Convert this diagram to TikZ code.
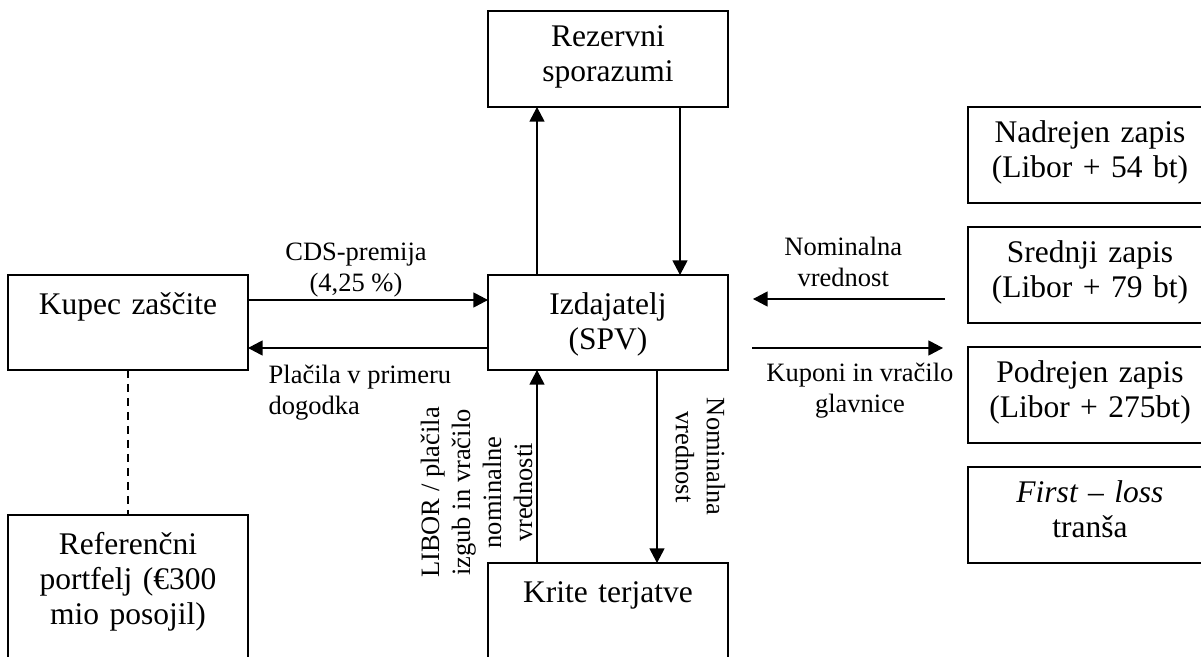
\documentclass[tikz,border=0pt]{standalone}
\usepackage{fontspec}
\setmainfont{Liberation Serif}
\usetikzlibrary{arrows.meta}
\usetikzlibrary{positioning}
\usetikzlibrary{calc}

\newcommand{\boxfont}{\fontsize{15.75pt}{17.5pt}\selectfont}
\newcommand{\lblfont}{\fontsize{13.25pt}{15.5pt}\selectfont}

\begin{document}
\begin{tikzpicture}[
			x=0.5pt, y=-0.5pt,
			box/.style={rectangle, draw=black, line width=0.8pt, anchor=north west, text width=120pt, inner xsep=0pt, inner ysep=0pt, outer sep=0pt, align=center, font=\boxfont, text height=20pt, text depth=27.5pt},
			tranche/.style={box, text width=122pt, text height=18pt, text depth=30pt},
			lbl/.style={font=\lblfont, align=center, inner sep=0pt},
			flow/.style={line width=0.65pt, arrows=-{Triangle[length=7.3pt,width=7.5pt]}},
			]
			\useasboundingbox (0,0) rectangle (1201,657);
			\clip (0,0) rectangle (1201,657);
			
			\node[box]         (kupec)    at (8,275)                        {Kupec zaščite};
			\node[box]         (izdaj)    at (488,275)                      {Izdajatelj\\(SPV)};
			\node[box, text height=18pt, text depth=30pt] (rezerv) at (488,11) {Rezervni\\sporazumi};
			\node[box, text depth=40pt]  (krite)   at (488,563)             {Krite terjatve};
			\node[box, text depth=60pt]  (referen) at (8,515)               {Referenčni\\portfelj (€300\\mio posojil)};
			
			\node[tranche]     (nadrejen) at (968,107)                      {Nadrejen zapis\\(Libor + 54 bt)};
			\node[tranche]     (srednji)  [below=12pt of nadrejen]          {Srednji zapis\\(Libor + 79 bt)};
			\node[tranche]     (podrejen) [below=12pt of srednji]           {Podrejen zapis\\(Libor + 275bt)};
			\node[tranche]     (firstloss) [below=12pt of podrejen]         {\textit{First – loss}\\tranša};
			
			\coordinate (nomin) at ($(srednji.north west)+(-23,72)$);
			\coordinate (kupon) at ($(podrejen.north west)+(-25,1)$);
			
			\draw [flow] ($(kupec.north east)+(0,25)$)   --node[lbl, pos=0.45, above=1pt]                                        {CDS-premija\\(4,25 \%)}   ($(izdaj.north west)+(0,25)$);
			\draw [flow] ($(izdaj.north west)+(0,73)$)   --node[lbl, at end, align=left, anchor=north west, xshift=10pt, yshift=-8pt] {Plačila v primeru\\dogodka} ($(kupec.north east)+(0,73)$);
			\draw [flow] ($(izdaj.north west)+(49,0)$)   --                                                                   ($(rezerv.south west)+(49,0)$);
			\draw [flow] ($(rezerv.south west)+(192,0)$) --                                                                   ($(izdaj.north west)+(192,0)$);
			\draw [flow] ($(krite.north west)+(49,0)$)   --node[lbl, pos=0.365, rotate=90, anchor=south, inner ysep=2pt]         {LIBOR / plačila\\izgub in vračilo\\nominalne\\vrednosti} ($(izdaj.south west)+(49,0)$);
			\draw [flow] ($(izdaj.south west)+(169,0)$)  --node[lbl, pos=0.45, rotate=-90, anchor=south, inner ysep=9pt]         {Nominalna\\vrednost}      ($(krite.north west)+(169,0)$);
			\draw [flow] (nomin)                         --node[lbl, pos=0.53, above=6pt]                                        {Nominalna\\vrednost}      ($(nomin -| izdaj.east)+(25,0)$);
			\draw [flow] ($(kupon -| izdaj.east)+(24,0)$) --node[lbl, pos=0.565, below=7pt]                                      {Kuponi in vračilo\\glavnice} (kupon);
			\draw [line width=0.65pt, dash pattern=on 4pt off 3pt] (kupec.south) -- (referen.north);
			
\end{tikzpicture}
\end{document}
